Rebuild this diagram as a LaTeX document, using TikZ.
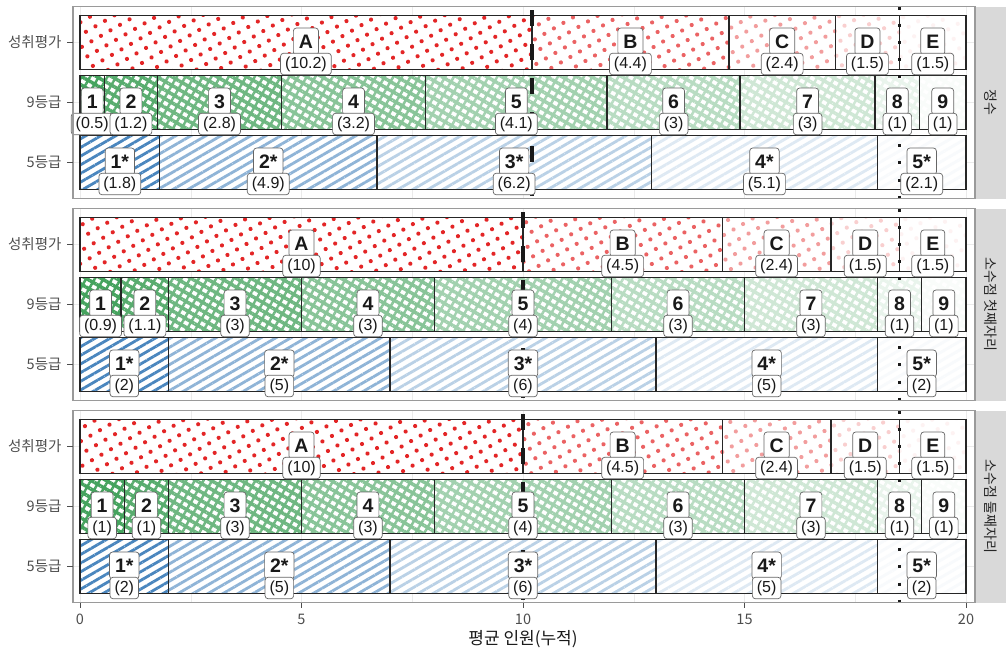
\documentclass[tikz,border=0pt]{standalone}
\usepackage{fontspec}
\setmainfont{Liberation Sans}
\newfontfamily\kr{Noto Sans CJK KR}
\usetikzlibrary{patterns.meta}

\definecolor{dotred}{HTML}{E32526}
\definecolor{hatchgreen}{HTML}{45A35E}
\definecolor{stripeblue}{HTML}{4A86BE}
\definecolor{axisgrey}{HTML}{4D4D4D}
\definecolor{framegrey}{HTML}{9A9A9A}
\definecolor{gridgrey}{HTML}{EBEBEB}
\definecolor{stripgrey}{HTML}{D9D9D9}

\tikzset{
  seg/.style={draw=black!85, line width=1.5pt},
  redfill/.style={fill=white, postaction={pattern={Dots[radius=2.1pt, distance=11pt, angle=30]}, pattern color=dotred!#1!white}},
  greenfill/.style={fill=white,
    postaction={pattern={Lines[angle=-30, distance=7.5pt, line width=3.5pt]}, pattern color=hatchgreen!#1!white},
    postaction={pattern={Lines[angle=60, distance=7.5pt, line width=2.5pt]}, pattern color=hatchgreen!#1!white}},
  bluefill/.style={fill=white,
    postaction={pattern={Lines[angle=30, distance=7.5pt, line width=2.8pt]}, pattern color=stripeblue!#1!white}},
  tag/.style={draw=black!60, line width=0.7pt, fill=white, rounded corners=3pt, text=black!90},
  keytag/.style={tag, font=\fontsize{19.5}{20}\selectfont\bfseries, inner xsep=5.5pt, inner ysep=6.5pt, text height=14pt, text depth=0pt},
  valtag/.style={tag, font=\fontsize{16}{17}\selectfont, inner xsep=4.5pt, inner ysep=3pt, text height=12pt, text depth=3.5pt},
  meanline/.style={black!90, line width=3.5pt, dash pattern=on 16pt off 18pt, dash phase=30.5pt},
  cutline/.style={black!90, line width=3.5pt, dash pattern=on 3pt off 14.2pt},
  frame/.style={draw=framegrey, line width=1.2pt},
  axistext/.style={text=axisgrey, font=\kr\fontsize{14.5}{15}\selectfont},
  striptext/.style={text=black!85, font=\kr\fontsize{14}{15}\selectfont, rotate=-90},
}

% #1 panel top
\newcommand{\panelgrid}[1]{
  \foreach \gx in {0,5,...,20}
    \draw[gridgrey, line width=1pt] (\gx,#1) -- (\gx,#1+192);
  \foreach \gx in {2.5,7.5,...,17.5}
    \draw[gridgrey, line width=0.5pt] (\gx,#1) -- (\gx,#1+192);
  \foreach \gy in {36,96,156}
    \draw[gridgrey, line width=1pt] (-0.16,#1+\gy) -- (20.2,#1+\gy);
}
% #1 row centre, #2 fill style, #3 segments
\newcommand{\barrow}[3]{
  \foreach \xa/\xb/\tagtxt/\numtxt/\shade in #3
    \path[#2=\shade] (\xa,#1-27) rectangle (\xb,#1+27);
  \foreach \xa/\xb/\tagtxt/\numtxt/\shade in #3
    \draw[seg] (\xa,#1-27) rectangle (\xb,#1+27);
}
% #1 row centre, #2 segments, #3 name prefix
\newcommand{\tagrow}[3]{
  \foreach \xa/\xb/\tagtxt/\numtxt/\shade [count=\i] in #2
    \node[keytag] (#3k\i) at ({(\xa+\xb)/2},#1-1) {\tagtxt};
  \foreach \xa/\xb/\tagtxt/\numtxt/\shade [count=\i] in #2
    \node[valtag] (#3v\i) at ({(\xa+\xb)/2},#1+21.5) {(\numtxt)};
}

\def\pAa{0/10.2/A/10.2/100, 10.2/14.65/B/4.4/72, 14.65/17.05/C/2.4/45, 17.05/18.5/D/1.5/22, 18.5/20/E/1.5/6}
\def\pAb{0/0.55/1/0.5/100, 0.55/1.75/2/1.2/90, 1.75/4.55/3/2.8/78, 4.55/7.8/4/3.2/64, 7.8/11.9/5/4.1/50, 11.9/14.9/6/3/38, 14.9/17.95/7/3/26, 17.95/18.95/8/1/12, 18.95/20/9/1/3}
\def\pAc{0/1.8/1*/1.8/100, 1.8/6.7/2*/4.9/62, 6.7/12.9/3*/6.2/38, 12.9/18/4*/5.1/18, 18/20/5*/2.1/4}
\def\pBa{0/10/A/10/100, 10/14.5/B/4.5/72, 14.5/16.95/C/2.4/45, 16.95/18.5/D/1.5/22, 18.5/20/E/1.5/6}
\def\pBb{0/0.93/1/0.9/100, 0.93/2/2/1.1/90, 2/5/3/3/78, 5/8/4/3/64, 8/12/5/4/50, 12/15/6/3/38, 15/18/7/3/26, 18/19/8/1/12, 19/20/9/1/3}
\def\pBc{0/2/1*/2/100, 2/7/2*/5/62, 7/13/3*/6/38, 13/18/4*/5/18, 18/20/5*/2/4}
\def\pCb{0/1/1/1/100, 1/2/2/1/90, 2/5/3/3/78, 5/8/4/3/64, 8/12/5/4/50, 12/15/6/3/38, 15/18/7/3/26, 18/19/8/1/12, 19/20/9/1/3}

\begin{document}
\begin{tikzpicture}[x=1pt, y=-1pt]
\useasboundingbox (0,0) rectangle (1006,653);

\begin{scope}[xshift=80pt, x=44.3pt]
  \panelgrid{6.5}
  \panelgrid{208.5}
  \panelgrid{410.5}

  % 정수
  \barrow{42.5}{redfill}{\pAa}
  \barrow{102.5}{greenfill}{\pAb}
  \barrow{162.5}{bluefill}{\pAc}
  % 소수점 첫째자리
  \barrow{244.5}{redfill}{\pBa}
  \barrow{304.5}{greenfill}{\pBb}
  \barrow{364.5}{bluefill}{\pBc}
  % 소수점 둘째자리
  \barrow{446.5}{redfill}{\pBa}
  \barrow{506.5}{greenfill}{\pCb}
  \barrow{566.5}{bluefill}{\pBc}

  \coordinate (mA1) at (10.2,6.5);   \coordinate (mA2) at (10.2,198.5);
  \coordinate (mB1) at (10,208.5);   \coordinate (mB2) at (10,400.5);
  \coordinate (mC1) at (10,410.5);   \coordinate (mC2) at (10,602.5);
  \coordinate (cA1) at (18.5,6.5);   \coordinate (cA2) at (18.5,198.5);
  \coordinate (cB1) at (18.5,208.5); \coordinate (cB2) at (18.5,400.5);
  \coordinate (cC1) at (18.5,410.5); \coordinate (cC2) at (18.5,602.5);
  \draw[meanline] (mA1) -- (mA2);
  \draw[meanline] (mB1) -- (mB2);
  \draw[meanline] (mC1) -- (mC2);
  \draw[cutline] (cA1) -- (cA2);
  \draw[cutline] (cB1) -- (cB2);
  \draw[cutline] (cC1) -- (cC2);

  \tagrow{42.5}{\pAa}{aa}
  \tagrow{102.5}{\pAb}{ab}
  \tagrow{162.5}{\pAc}{ac}
  \tagrow{244.5}{\pBa}{ba}
  \tagrow{304.5}{\pBb}{bb}
  \tagrow{364.5}{\pBc}{bc}
  \tagrow{446.5}{\pBa}{ca}
  \tagrow{506.5}{\pCb}{cb}
  \tagrow{566.5}{\pBc}{cc}

  % x axis
  \foreach \tx in {0,5,10,15,20} {
    \draw[axisgrey, line width=1pt] (\tx,602.5) -- (\tx,607.5);
    \node[axistext] (tick\tx) at (\tx,619) {\tx};
  }
\end{scope}

% panels and strips
\foreach \top/\strip [count=\p] in {6.5/정수, 208.5/소수점 첫째자리, 410.5/소수점 둘째자리} {
  \draw[frame] (73,\top) rectangle (975,\top+192);
  \fill[stripgrey] (976,\top) rectangle (1006,\top+192);
  \node[striptext] (strip\p) at (991,\top+96) {\strip};
  \foreach \rowy/\rowtxt [count=\r] in {36/성취평가, 96/9등급, 156/5등급} {
    \draw[axisgrey, line width=1pt] (67,\top+\rowy) -- (73,\top+\rowy);
    \node[axistext, anchor=east] (row\p\r) at (65,\top+\rowy) {\rowtxt};
  }
}

\node[font=\kr\fontsize{17}{18}\selectfont, text=black!90] (xtitle) at (523,639) {평균 인원(누적)};
\end{tikzpicture}
\end{document}
